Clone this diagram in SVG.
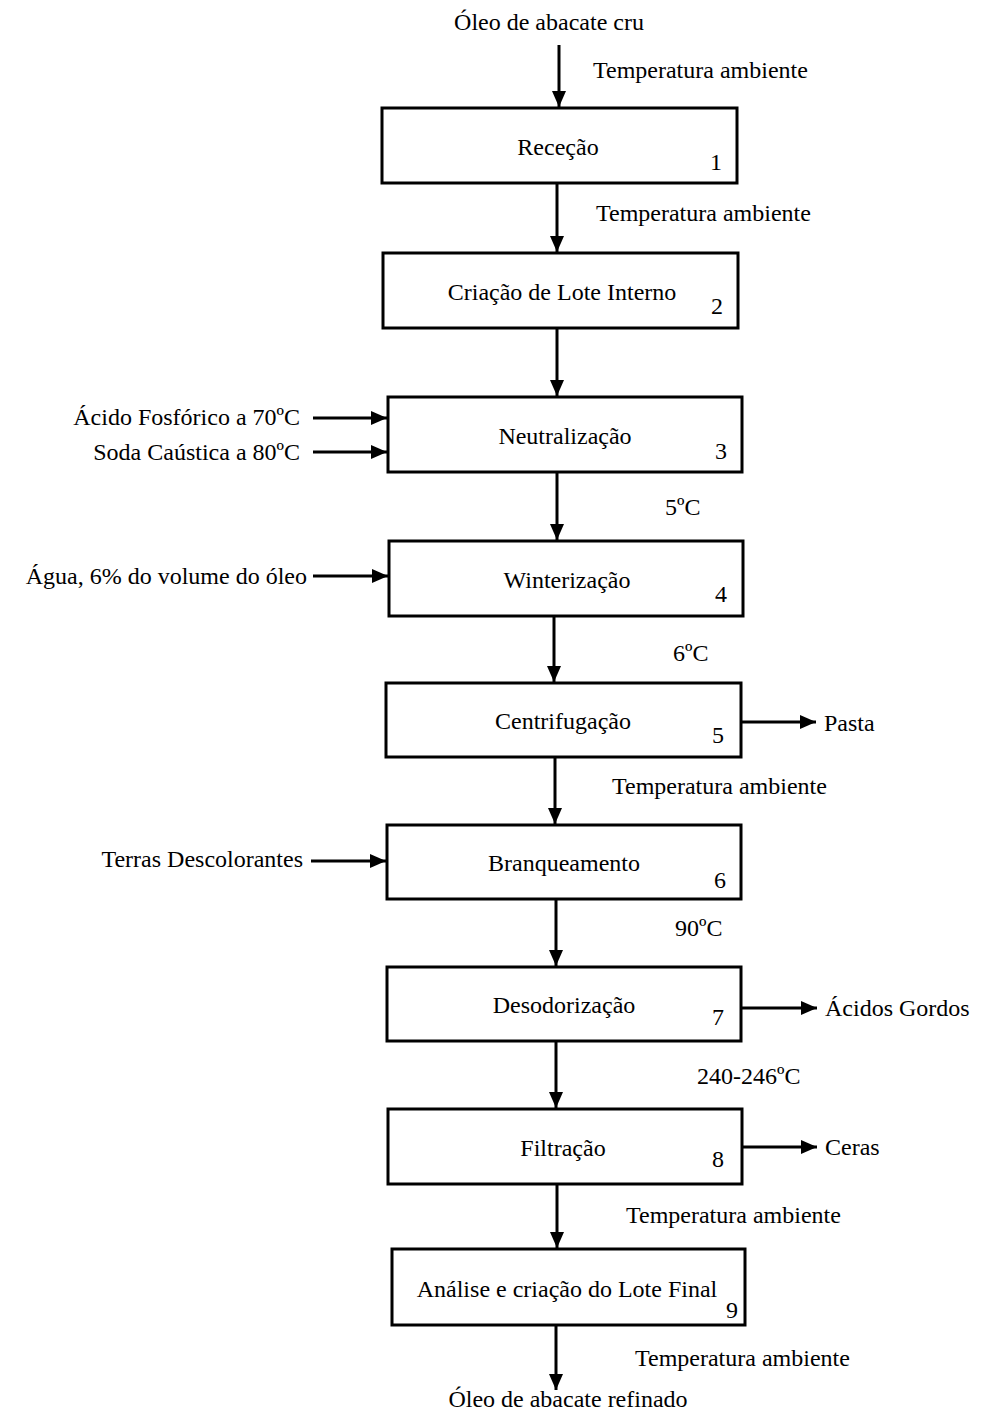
<svg xmlns="http://www.w3.org/2000/svg" width="981" height="1416" viewBox="0 0 981 1416">
<style>
text{font-family:"Liberation Serif","Times New Roman",serif;font-size:24px;fill:#000}
.c{text-anchor:middle}
.r{text-anchor:end}
.box{fill:#fff;stroke:#000;stroke-width:3}
.ln{stroke:#000;stroke-width:3;fill:none;marker-end:url(#ah)}
</style>
<defs>
<marker id="ah" markerUnits="userSpaceOnUse" markerWidth="16" markerHeight="14" refX="16" refY="7" orient="auto">
<path d="M0,0 L16,7 L0,14 Z" fill="#000"/>
</marker>
</defs>
<rect width="981" height="1416" fill="#fff"/>
<g id="connectors">
<line class="ln" x1="559" y1="45" x2="559" y2="107"/>
<line class="ln" x1="557" y1="184" x2="557" y2="252"/>
<line class="ln" x1="557" y1="329" x2="557" y2="396"/>
<line class="ln" x1="557" y1="473" x2="557" y2="540"/>
<line class="ln" x1="554" y1="617" x2="554" y2="682"/>
<line class="ln" x1="555" y1="758" x2="555" y2="824"/>
<line class="ln" x1="556" y1="900" x2="556" y2="966"/>
<line class="ln" x1="556" y1="1042" x2="556" y2="1108"/>
<line class="ln" x1="557" y1="1185" x2="557" y2="1248"/>
<line class="ln" x1="556" y1="1326" x2="556" y2="1390"/>
<line class="ln" x1="313" y1="418" x2="387" y2="418"/>
<line class="ln" x1="313" y1="452" x2="387" y2="452"/>
<line class="ln" x1="313" y1="576" x2="388" y2="576"/>
<line class="ln" x1="311" y1="861" x2="386" y2="861"/>
<line class="ln" x1="742" y1="722" x2="816" y2="722"/>
<line class="ln" x1="742" y1="1008" x2="817" y2="1008"/>
<line class="ln" x1="743" y1="1147" x2="817" y2="1147"/>
</g>
<g id="labels">
<text class="c" x="549" y="30">Óleo de abacate cru</text>
<text x="593" y="78">Temperatura ambiente</text>
<text x="596" y="221">Temperatura ambiente</text>
<text x="665" y="515">5ºC</text>
<text x="673" y="661">6ºC</text>
<text x="612" y="794">Temperatura ambiente</text>
<text x="675" y="936">90ºC</text>
<text x="697" y="1084">240-246ºC</text>
<text x="626" y="1223">Temperatura ambiente</text>
<text x="635" y="1366">Temperatura ambiente</text>
<text class="c" x="568" y="1407">Óleo de abacate refinado</text>
<text class="r" x="300" y="425">Ácido Fosfórico a 70ºC</text>
<text class="r" x="300" y="460">Soda Caústica a 80ºC</text>
<text class="r" x="307" y="584">Água, 6% do volume do óleo</text>
<text class="r" x="303" y="867">Terras Descolorantes</text>
<text x="824" y="731">Pasta</text>
<text x="825" y="1016">Ácidos Gordos</text>
<text x="825" y="1155">Ceras</text>
</g>
<g id="n1"><rect class="box" x="382" y="108" width="355" height="75"/><text class="c" x="558" y="155">Receção</text><text x="710" y="170">1</text></g>
<g id="n2"><rect class="box" x="383" y="253" width="355" height="75"/><text class="c" x="562" y="300">Criação de Lote Interno</text><text x="711" y="314">2</text></g>
<g id="n3"><rect class="box" x="388" y="397" width="354" height="75"/><text class="c" x="565" y="444">Neutralização</text><text x="715" y="459">3</text></g>
<g id="n4"><rect class="box" x="389" y="541" width="354" height="75"/><text class="c" x="567" y="588">Winterização</text><text x="715" y="602">4</text></g>
<g id="n5"><rect class="box" x="386" y="683" width="355" height="74"/><text class="c" x="563" y="729">Centrifugação</text><text x="712" y="743">5</text></g>
<g id="n6"><rect class="box" x="387" y="825" width="354" height="74"/><text class="c" x="564" y="871">Branqueamento</text><text x="714" y="888">6</text></g>
<g id="n7"><rect class="box" x="387" y="967" width="354" height="74"/><text class="c" x="564" y="1013">Desodorização</text><text x="712" y="1025">7</text></g>
<g id="n8"><rect class="box" x="388" y="1109" width="354" height="75"/><text class="c" x="563" y="1156">Filtração</text><text x="712" y="1167">8</text></g>
<g id="n9"><rect class="box" x="392" y="1249" width="353" height="76"/><text class="c" x="567" y="1297">Análise e criação do Lote Final</text><text x="726" y="1318">9</text></g>
</svg>
